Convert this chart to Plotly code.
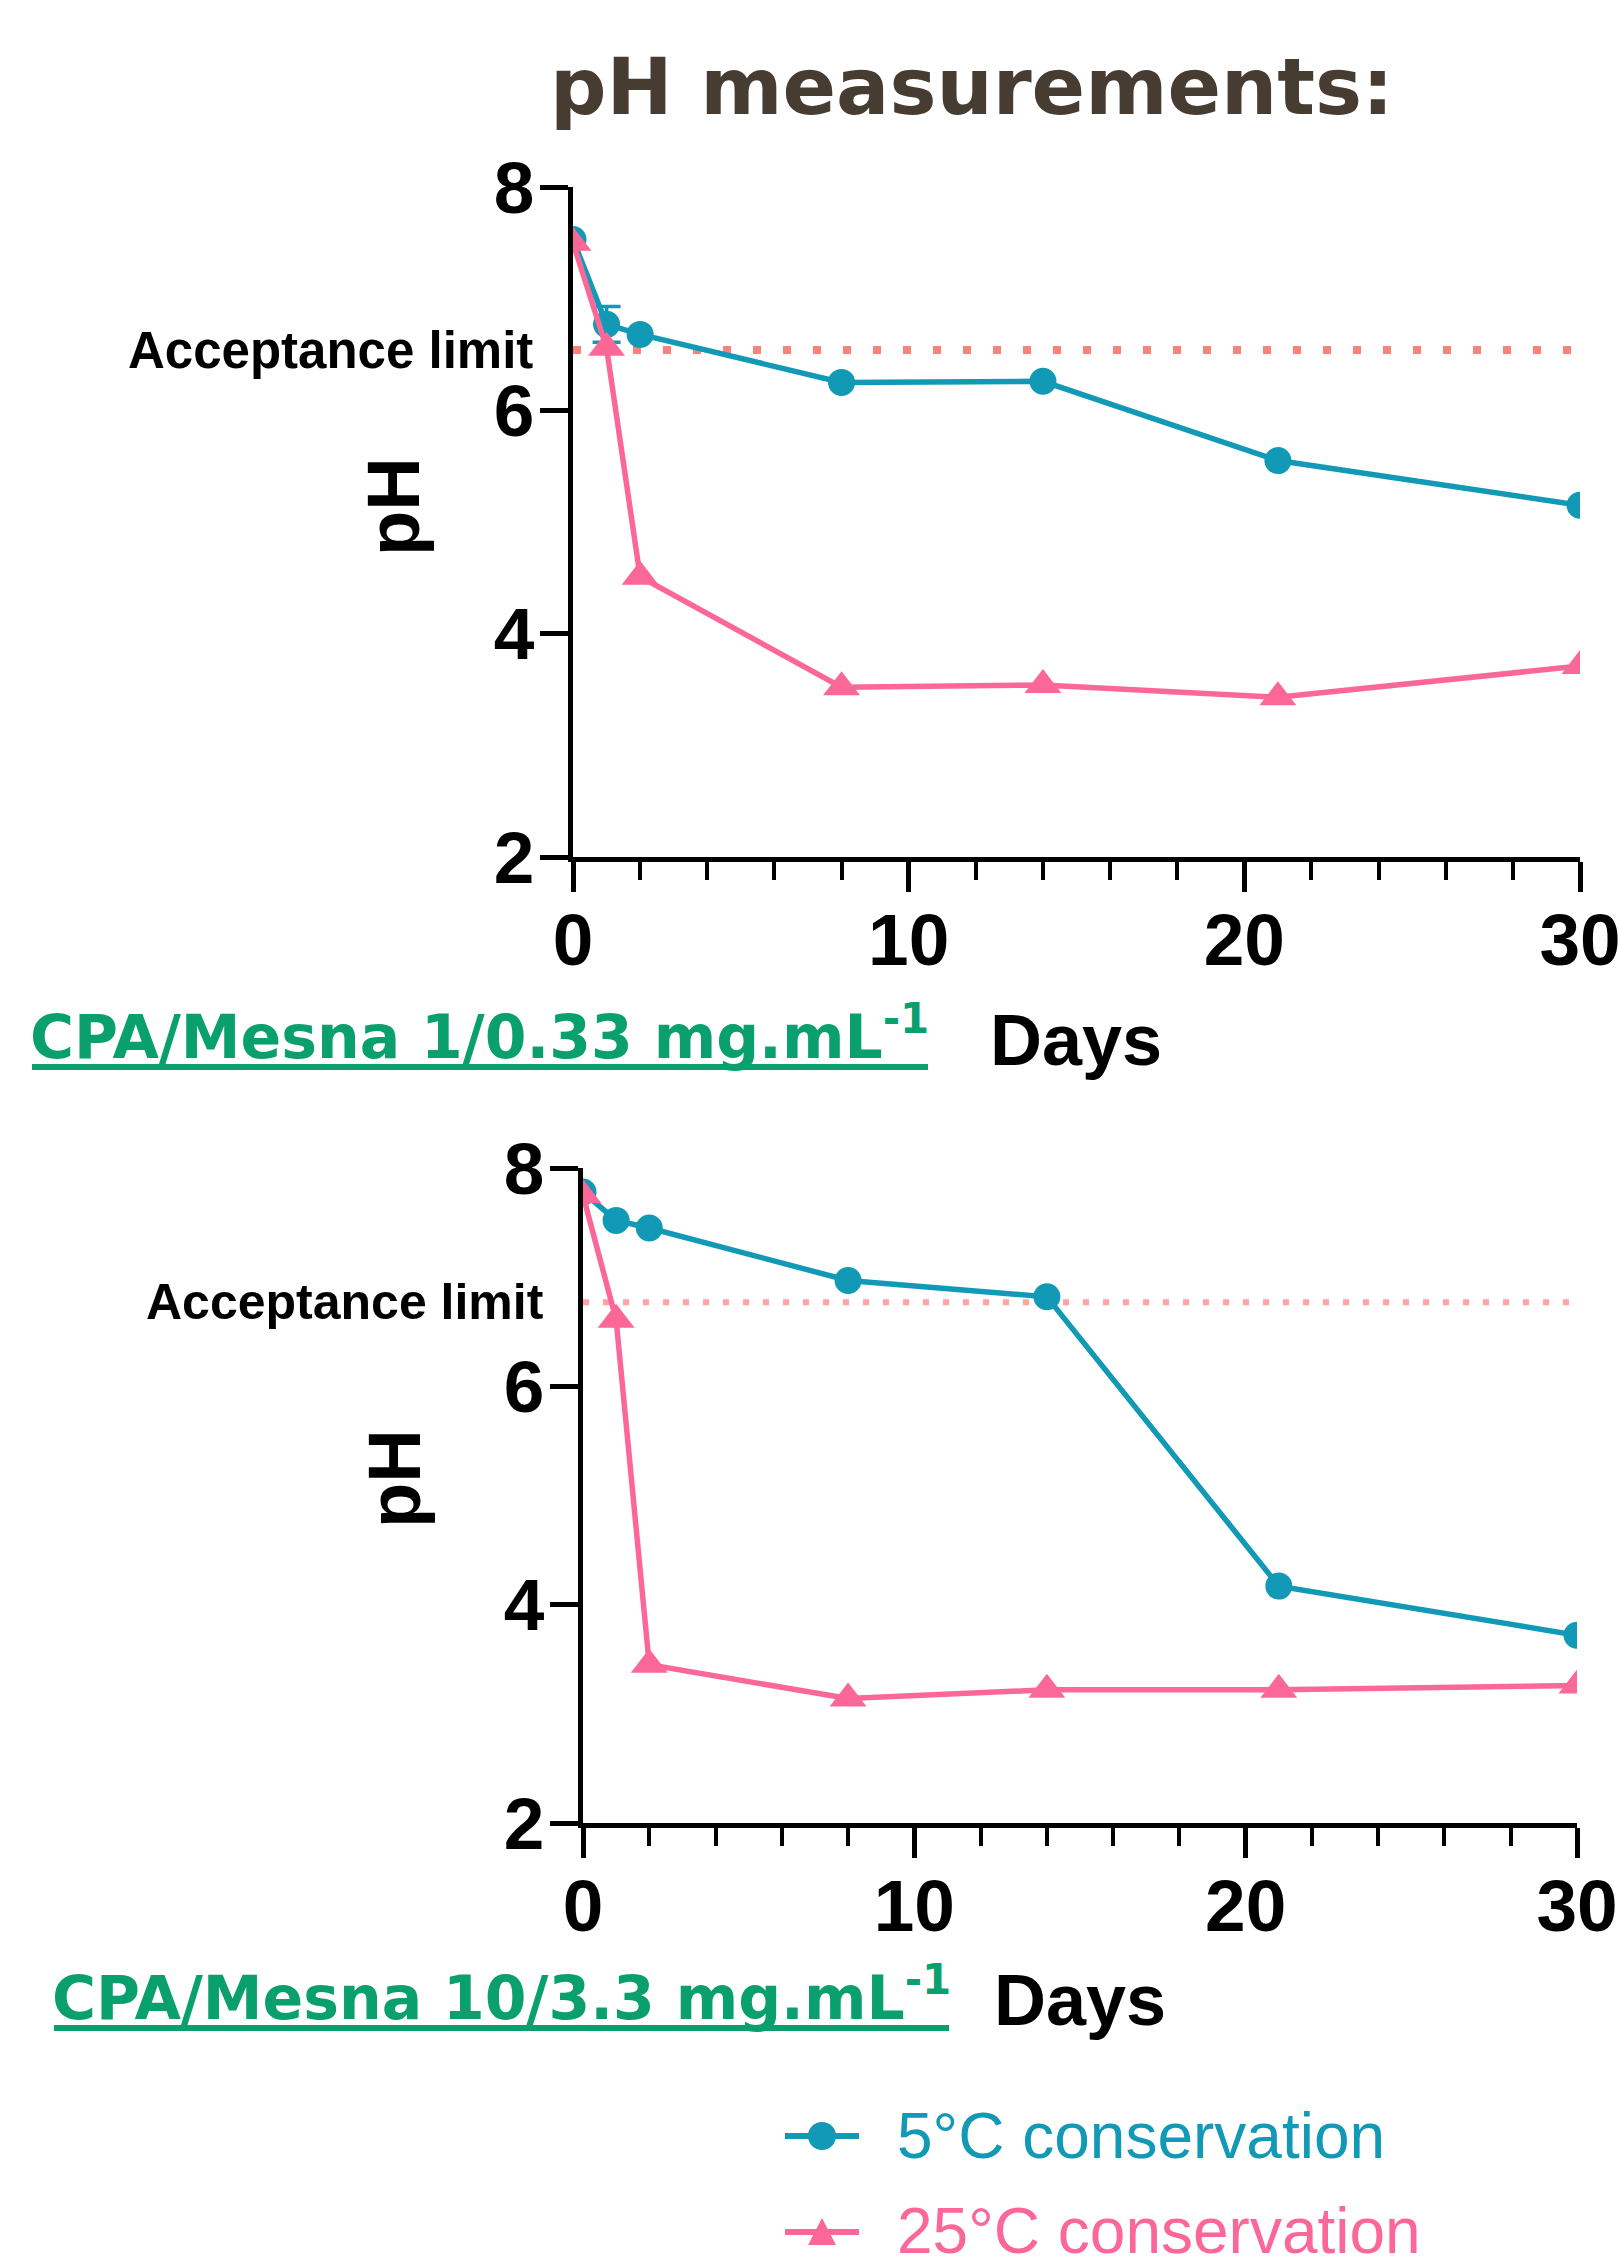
import plotly.graph_objects as go

# ---------------- data ----------------
DAYS = [0, 1, 2, 8, 14, 21, 30]

# Panel 1 : CPA/Mesna 1/0.33 mg.mL-1
PH_5C_P1 = [7.53, 6.77, 6.68, 6.25, 6.26, 5.55, 5.15]
ERR_5C_P1 = [0, 0.16, 0, 0, 0, 0, 0]
PH_25C_P1 = [7.50, 6.56, 4.51, 3.52, 3.54, 3.43, 3.71]

# Panel 2 : CPA/Mesna 10/3.3 mg.mL-1
PH_5C_P2 = [7.78, 7.52, 7.45, 6.97, 6.82, 4.17, 3.72]
ERR_5C_P2 = [0, 0, 0, 0, 0, 0, 0]
PH_25C_P2 = [7.75, 6.61, 3.45, 3.14, 3.22, 3.22, 3.26]

ACCEPT_LIMIT = [6.54, 6.77]
PANEL_LABELS = ["CPA/Mesna 1/0.33 mg.mL<sup>-1</sup>",
                "CPA/Mesna 10/3.3 mg.mL<sup>-1</sup>"]
SERIES_NAMES = ["5°C conservation", "25°C conservation"]
X_TICKS = [0, 10, 20, 30]
Y_TICKS = [2, 4, 6, 8]
X_TITLE = "Days"
Y_TITLE = "pH"
TITLE = "pH measurements:"
ACCEPT_TEXT = "Acceptance limit"

# ---------------- style ----------------
W, H = 1618, 2257
TEAL = "#1299B5"
PINK = "#FB6898"
GREEN = "#0AA06E"
TITLE_COL = "#463C32"
ACC_COLS = ["#F9837A", "#FFA3A3"]
BOLD = dict(family="Liberation Sans, Arial, sans-serif", color="black", weight="bold")


def px(x):
    return x / W


def py(y):
    return 1 - y / H


# pixel boxes of the two panels: (x_left, x_right, y_top, y_bottom)
PANELS = [(573, 1580, 187, 857), (583, 1577, 1168, 1823)]

fig = go.Figure()

panel_data = [
    (PH_5C_P1, ERR_5C_P1, PH_25C_P1),
    (PH_5C_P2, ERR_5C_P2, PH_25C_P2),
]

for i, (c5, e5, c25) in enumerate(panel_data):
    xa = "x" if i == 0 else "x2"
    ya = "y" if i == 0 else "y2"
    ex = [d for d, e in zip(DAYS, e5) if e]
    ey = [v for v, e in zip(c5, e5) if e]
    ee = [e for e in e5 if e]
    if ee:
        fig.add_trace(go.Scatter(
            x=ex, y=ey, mode="markers", xaxis=xa, yaxis=ya,
            marker=dict(opacity=0, size=2), showlegend=False, hoverinfo="skip",
            error_y=dict(type="data", array=ee, color=TEAL, thickness=3.5, width=14)))
    fig.add_trace(go.Scatter(
        x=DAYS, y=c5, mode="lines+markers", name=SERIES_NAMES[0], xaxis=xa, yaxis=ya,
        line=dict(color=TEAL, width=5.5), marker=dict(symbol="circle", size=27, color=TEAL),
        showlegend=False))
    fig.add_trace(go.Scatter(
        x=DAYS, y=c25, mode="lines+markers", name=SERIES_NAMES[1], xaxis=xa, yaxis=ya,
        line=dict(color=PINK, width=5.5), marker=dict(symbol="triangle-up", size=32, color=PINK),
        showlegend=False))

layout_axes = {}
for i, (xl, xr, yt, yb) in enumerate(PANELS):
    sfx = "" if i == 0 else "2"
    layout_axes["xaxis" + sfx] = dict(
        domain=[px(xl), px(xr)], anchor="y" + sfx, range=[0, 30], automargin=False,
        showline=True, linewidth=5, linecolor="black",
        ticks="outside", ticklen=30, tickwidth=5, tickcolor="black",
        tickvals=X_TICKS, tickfont=dict(size=73, **BOLD), ticklabelstandoff=-15,
        ticklabeloverflow="allow",
        minor=dict(dtick=2, ticks="outside", ticklen=18, tickwidth=4, tickcolor="black", showgrid=False),
        showgrid=False, zeroline=False)
    layout_axes["yaxis" + sfx] = dict(
        domain=[py(yb), py(yt)], anchor="x" + sfx, range=[2, 8], automargin=False,
        showline=True, linewidth=5, linecolor="black",
        ticks="outside", ticklen=28, tickwidth=5, tickcolor="black",
        tickvals=Y_TICKS, tickfont=dict(size=73, **BOLD), ticklabelstandoff=-9,
        ticklabeloverflow="allow",
        showgrid=False, zeroline=False)

shapes = []
for i in range(2):
    sfx = "" if i == 0 else "2"
    w = 8 if i == 0 else 6
    dash = "8px,22px" if i == 0 else "6px,14px"
    shapes.append(dict(type="line", xref="x" + sfx, yref="y" + sfx, x0=0, x1=30,
                       y0=ACCEPT_LIMIT[i], y1=ACCEPT_LIMIT[i],
                       line=dict(color=ACC_COLS[i], width=w, dash=dash), layer="below"))

# underlines of the panel labels
UNDERLINES = [(32, 928, 1067), (54, 949, 2028)]
for (x0, x1, yy) in UNDERLINES:
    shapes.append(dict(type="line", xref="paper", yref="paper", x0=px(x0), x1=px(x1),
                       y0=py(yy), y1=py(yy), line=dict(color=GREEN, width=6)))

# manual legend keys
LEG_Y = [2136, 2232]
for j, col in enumerate([TEAL, PINK]):
    shapes.append(dict(type="line", xref="paper", yref="paper",
                       x0=px(785), x1=px(859), y0=py(LEG_Y[j]), y1=py(LEG_Y[j]),
                       line=dict(color=col, width=6)))
shapes.append(dict(type="circle", xref="paper", yref="paper", xsizemode="pixel", ysizemode="pixel",
                   xanchor=px(822), yanchor=py(LEG_Y[0]), x0=-14, x1=14, y0=-14, y1=14,
                   fillcolor=TEAL, line=dict(width=0)))
shapes.append(dict(type="path", xref="paper", yref="paper", xsizemode="pixel", ysizemode="pixel",
                   xanchor=px(822), yanchor=py(LEG_Y[1]), path="M-14,-13 L14,-13 L0,14 Z",
                   fillcolor=PINK, line=dict(width=0)))

annotations = [
    dict(text=TITLE, x=px(972), y=py(87), xref="paper", yref="paper", showarrow=False,
         xanchor="center", yanchor="middle",
         font=dict(family="DejaVu Sans, Verdana, sans-serif", size=79, color=TITLE_COL, weight="bold")),
]
label_pos = [(480, 1033), (501, 1994)]
days_pos = [(1076, 1040), (1080, 2000)]
ph_pos = [(394, 507), (394, 1479)]
acc_right = [535, 546]
acc_size = [51, 50]
for i in range(2):
    sfx = "" if i == 0 else "2"
    annotations.append(dict(text=PANEL_LABELS[i], x=px(label_pos[i][0]), y=py(label_pos[i][1]),
                            xref="paper", yref="paper", showarrow=False, xanchor="center", yanchor="middle",
                            font=dict(family="DejaVu Sans, Verdana, sans-serif", size=60, color=GREEN, weight="bold")))
    annotations.append(dict(text=X_TITLE, x=px(days_pos[i][0]), y=py(days_pos[i][1]),
                            xref="paper", yref="paper", showarrow=False, xanchor="center", yanchor="middle",
                            font=dict(size=72, **BOLD)))
    annotations.append(dict(text=Y_TITLE, x=px(ph_pos[i][0]), y=py(ph_pos[i][1]), textangle=-90,
                            xref="paper", yref="paper", showarrow=False, xanchor="center", yanchor="middle",
                            font=dict(size=74, **BOLD)))
    annotations.append(dict(text=ACCEPT_TEXT, x=px(acc_right[i]), y=ACCEPT_LIMIT[i],
                            xref="paper", yref="y" + sfx, showarrow=False, xanchor="right", yanchor="middle",
                            font=dict(size=acc_size[i], **BOLD)))

LEG_TEXT_Y = [2136, 2231]
for j, col in enumerate([TEAL, PINK]):
    annotations.append(dict(text=SERIES_NAMES[j], x=px(895), y=py(LEG_TEXT_Y[j]),
                            xref="paper", yref="paper", showarrow=False, xanchor="left", yanchor="middle",
                            font=dict(family="Liberation Sans, Arial, sans-serif", size=64, color=col)))

fig.update_layout(
    width=W, height=H, margin=dict(l=0, r=0, t=0, b=0, pad=0),
    paper_bgcolor="white", plot_bgcolor="white",
    showlegend=False, shapes=shapes, annotations=annotations,
    **layout_axes)

fig.write_html("out.html", config={"displayModeBar": False},
               post_script="document.body.style.margin='0';document.body.style.overflow='hidden';")
